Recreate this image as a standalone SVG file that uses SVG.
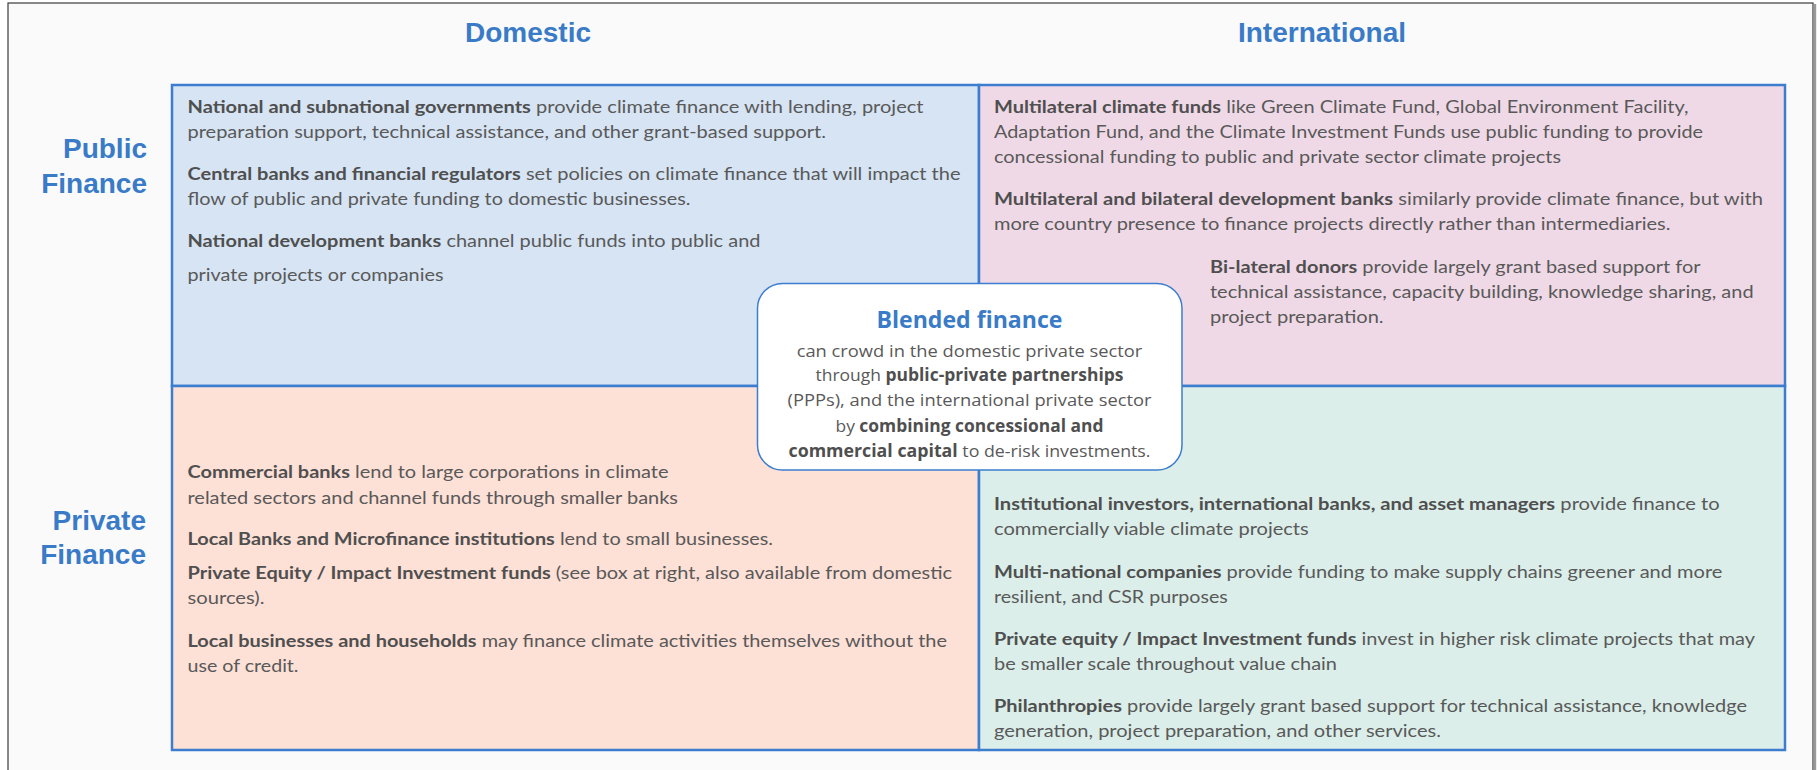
<svg xmlns="http://www.w3.org/2000/svg" width="1817" height="770" viewBox="0 0 1817 770">
  <style>
    .hdr { font-family: "Liberation Sans", Arial, sans-serif; font-weight: 700; font-size: 28px; fill: #3a7bc8; }
    .q { font-family: Lato, "Open Sans", sans-serif; font-size: 16.6px; fill: #595959; }
    .bl { font-family: "Open Sans", "Noto Sans", sans-serif; font-size: 17px; fill: #595959; text-anchor: middle; }
    .b { font-weight: 700; fill: #4f4f4f; }
    .title { font-family: "Open Sans", "Noto Sans", sans-serif; font-weight: 700; font-size: 23px; fill: #3a7bc8; text-anchor: middle; }
    .quad { stroke: #3c7dcf; stroke-width: 2.5; }
  </style>

  <!-- page and frame -->
  <rect x="0" y="0" width="1817" height="770" fill="#ffffff"/>
  <rect x="8" y="3" width="1805" height="800" fill="#fafafa" stroke="#3a3a3a" stroke-width="1.2"/>
  <rect x="1813.6" y="4" width="2.6" height="770" fill="#9a9a9a"/>

  <!-- column headers -->
  <g id="header-domestic">
    <text class="hdr" x="528" y="42" text-anchor="middle">Domestic</text>
  </g>
  <g id="header-international">
    <text class="hdr" x="1322" y="42" text-anchor="middle">International</text>
  </g>

  <!-- row labels -->
  <g id="label-public">
    <text class="hdr" x="147" y="158" text-anchor="end">Public</text>
    <text class="hdr" x="147" y="193" text-anchor="end">Finance</text>
  </g>
  <g id="label-private">
    <text class="hdr" x="146" y="530" text-anchor="end">Private</text>
    <text class="hdr" x="146" y="564" text-anchor="end">Finance</text>
  </g>

  <!-- public / domestic -->
  <g id="public-domestic">
    <rect class="quad" x="172" y="85" width="807" height="301" fill="#d6e4f4"/>
    <text class="q" x="187.5" y="113" textLength="736" lengthAdjust="spacingAndGlyphs"><tspan class="b">National and subnational governments</tspan> provide climate finance with lending, project</text>
    <text class="q" x="187.5" y="138" textLength="638.5" lengthAdjust="spacingAndGlyphs">preparation support, technical assistance, and other grant-based support.</text>
    <text class="q" x="187.5" y="180" textLength="773" lengthAdjust="spacingAndGlyphs"><tspan class="b">Central banks and financial regulators</tspan> set policies on climate finance that will impact the</text>
    <text class="q" x="187.5" y="205" textLength="503" lengthAdjust="spacingAndGlyphs">flow of public and private funding to domestic businesses.</text>
    <text class="q" x="187.5" y="247" textLength="573" lengthAdjust="spacingAndGlyphs"><tspan class="b">National development banks</tspan> channel public funds into public and</text>
    <text class="q" x="187.5" y="281" textLength="256" lengthAdjust="spacingAndGlyphs">private projects or companies</text>
  </g>

  <!-- public / international -->
  <g id="public-international">
    <rect class="quad" x="979" y="85" width="806" height="301" fill="#f0d9e7"/>
    <text class="q" x="994" y="113" textLength="694.5" lengthAdjust="spacingAndGlyphs"><tspan class="b">Multilateral climate funds</tspan> like Green Climate Fund, Global Environment Facility,</text>
    <text class="q" x="994" y="138" textLength="709" lengthAdjust="spacingAndGlyphs">Adaptation Fund, and the Climate Investment Funds use public funding to provide</text>
    <text class="q" x="994" y="163" textLength="567" lengthAdjust="spacingAndGlyphs">concessional funding to public and private sector climate projects</text>
    <text class="q" x="994" y="205" textLength="769" lengthAdjust="spacingAndGlyphs"><tspan class="b">Multilateral and bilateral development banks</tspan> similarly provide climate finance, but with</text>
    <text class="q" x="994" y="230" textLength="676.5" lengthAdjust="spacingAndGlyphs">more country presence to finance projects directly rather than intermediaries.</text>
    <text class="q" x="1210" y="273" textLength="490.6" lengthAdjust="spacingAndGlyphs"><tspan class="b">Bi-lateral donors</tspan> provide largely grant based support for</text>
    <text class="q" x="1210" y="298" textLength="543.6" lengthAdjust="spacingAndGlyphs">technical assistance, capacity building, knowledge sharing, and</text>
    <text class="q" x="1210" y="323" textLength="173.6" lengthAdjust="spacingAndGlyphs">project preparation.</text>
  </g>

  <!-- private / domestic -->
  <g id="private-domestic">
    <rect class="quad" x="172" y="386" width="807" height="364" fill="#fde0d6"/>
    <text class="q" x="187.5" y="478" textLength="481" lengthAdjust="spacingAndGlyphs"><tspan class="b">Commercial banks</tspan> lend to large corporations in climate</text>
    <text class="q" x="187.5" y="504" textLength="490.5" lengthAdjust="spacingAndGlyphs">related sectors and channel funds through smaller banks</text>
    <text class="q" x="187.5" y="545" textLength="585.5" lengthAdjust="spacingAndGlyphs"><tspan class="b">Local Banks and Microfinance institutions</tspan> lend to small businesses.</text>
    <text class="q" x="187.5" y="579" textLength="764.5" lengthAdjust="spacingAndGlyphs"><tspan class="b">Private Equity / Impact Investment funds</tspan> (see box at right, also available from domestic</text>
    <text class="q" x="187.5" y="604" textLength="77" lengthAdjust="spacingAndGlyphs">sources).</text>
    <text class="q" x="187.5" y="647" textLength="759.5" lengthAdjust="spacingAndGlyphs"><tspan class="b">Local businesses and households</tspan> may finance climate activities themselves without the</text>
    <text class="q" x="187.5" y="672" textLength="111" lengthAdjust="spacingAndGlyphs">use of credit.</text>
  </g>

  <!-- private / international -->
  <g id="private-international">
    <rect class="quad" x="979" y="386" width="806" height="364" fill="#dbeee9"/>
    <text class="q" x="994" y="510" textLength="725.7" lengthAdjust="spacingAndGlyphs"><tspan class="b">Institutional investors, international banks, and asset managers</tspan> provide finance to</text>
    <text class="q" x="994" y="535" textLength="314.7" lengthAdjust="spacingAndGlyphs">commercially viable climate projects</text>
    <text class="q" x="994" y="578" textLength="728.4" lengthAdjust="spacingAndGlyphs"><tspan class="b">Multi-national companies</tspan> provide funding to make supply chains greener and more</text>
    <text class="q" x="994" y="603" textLength="233.8" lengthAdjust="spacingAndGlyphs">resilient, and CSR purposes</text>
    <text class="q" x="994" y="645" textLength="761" lengthAdjust="spacingAndGlyphs"><tspan class="b">Private equity / Impact Investment funds</tspan> invest in higher risk climate projects that may</text>
    <text class="q" x="994" y="670" textLength="343" lengthAdjust="spacingAndGlyphs">be smaller scale throughout value chain</text>
    <text class="q" x="994" y="712" textLength="753" lengthAdjust="spacingAndGlyphs"><tspan class="b">Philanthropies</tspan> provide largely grant based support for technical assistance, knowledge</text>
    <text class="q" x="994" y="737" textLength="447" lengthAdjust="spacingAndGlyphs">generation, project preparation, and other services.</text>
  </g>

  <!-- connectors (none in this chart) -->
  <g id="connectors"/>

  <!-- blended finance callout over the centre -->
  <g id="blended-finance">
    <rect x="757.5" y="283.5" width="424.5" height="186.5" rx="25" ry="25" fill="#ffffff" stroke="#3c7dcf" stroke-width="1.5"/>
    <text class="title" x="969.5" y="328" textLength="186" lengthAdjust="spacingAndGlyphs">Blended finance</text>
    <text class="bl" x="969.5" y="357" textLength="345.7" lengthAdjust="spacingAndGlyphs">can crowd in the domestic private sector</text>
    <text class="bl" x="969.5" y="381" textLength="308" lengthAdjust="spacingAndGlyphs">through <tspan class="b">public-private partnerships</tspan></text>
    <text class="bl" x="969.5" y="406" textLength="364" lengthAdjust="spacingAndGlyphs">(PPPs), and the international private sector</text>
    <text class="bl" x="969.5" y="431.5" textLength="268" lengthAdjust="spacingAndGlyphs">by <tspan class="b">combining concessional and</tspan></text>
    <text class="bl" x="969.5" y="456.5" textLength="362" lengthAdjust="spacingAndGlyphs"><tspan class="b">commercial capital</tspan> to de-risk investments.</text>
  </g>
</svg>
